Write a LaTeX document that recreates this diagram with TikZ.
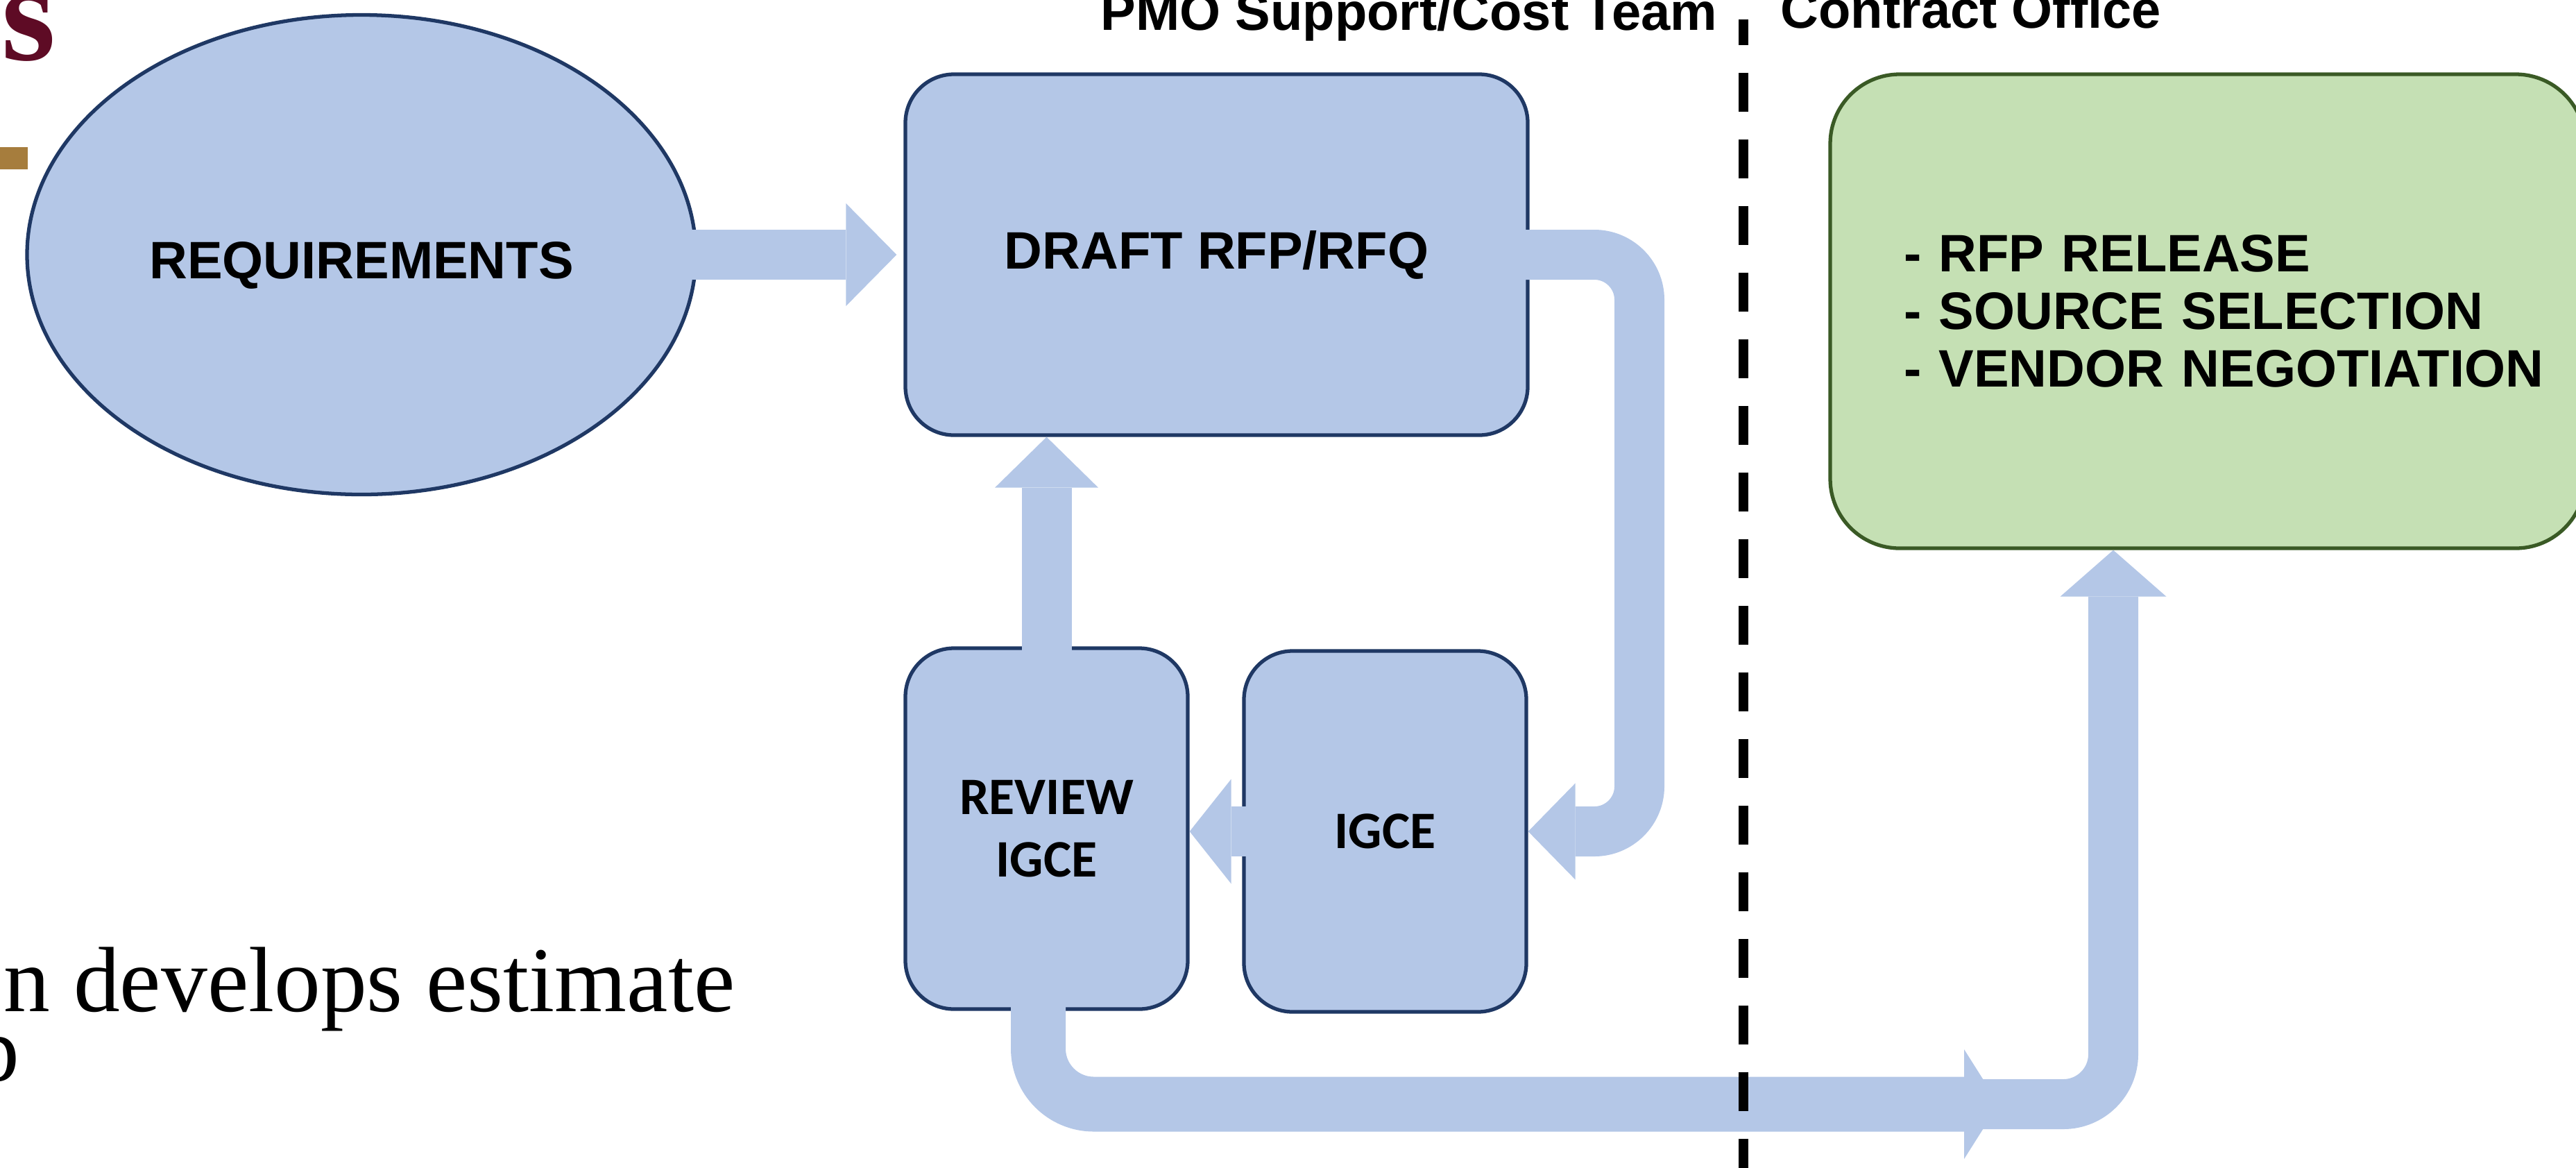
\documentclass[tikz,border=0pt]{standalone}
\usepackage{fontspec}
\setmainfont{Liberation Serif}
\newfontfamily\arialfont{Liberation Sans}
\newfontfamily\calibrifont{Carlito}
\usepackage{tikz}
\usetikzlibrary{shapes.geometric,arrows.meta}

\definecolor{flowblue}{HTML}{B4C7E7}
\definecolor{boxline}{HTML}{1F3864}
\definecolor{officefill}{HTML}{C5E0B4}
\definecolor{officeline}{HTML}{3A5A25}
\definecolor{titlered}{HTML}{5E0B25}
\definecolor{titlegold}{HTML}{A67D3D}

\tikzset{
  headtext/.style={inner sep=0pt, font=\arialfont\bfseries\fontsize{21.6}{23.6}\selectfont},
  stepbox/.style={draw=boxline, fill=flowblue, line width=1.5pt, rounded corners=0.7cm,
    minimum width=4.07cm, minimum height=5.2cm, align=center,
    font=\calibrifont\bfseries\fontsize{21.6}{25.6}\selectfont},
  flow/.style={draw=flowblue, line width=0.72cm},
  flowtip/.style 2 args={arrows={-{Triangle[length=#1,width=#2,line width=0pt]}}}
}

\begin{document}
\begin{tikzpicture}[y=-1cm]
  \useasboundingbox (0,0) rectangle (37.13,16.82);

  \node[anchor=base west, inner sep=0pt, text=titlered, font=\bfseries\fontsize{57}{57}\selectfont] (title) at (0.02,0.86) {s};
  \fill[titlegold] (0,2.12) rectangle (0.40,2.44);
  \node[anchor=base east, inner sep=0pt, font=\fontsize{38}{46}\selectfont] (body1) at (10.60,14.57) {n develops estimate};
  \node[anchor=base west, inner sep=0pt, font=\fontsize{38}{46}\selectfont] (body2) at (-0.39,15.57) {p};

  % lane headers
  \node[headtext, anchor=base west] (pmo) at (15.86,0.43) {PMO Support/Cost Team};
  \node[headtext, anchor=base west] (office) at (25.66,0.40) {Contract Office};

  % steps
  \node[ellipse, draw=boxline, fill=flowblue, line width=1.5pt, minimum width=9.64cm, minimum height=6.91cm,
    headtext, inner sep=0pt, text height=0.74cm, text depth=0.05cm] (req) at (5.21,3.67) {REQUIREMENTS};
  \node[stepbox, minimum width=8.97cm, font=\arialfont\bfseries\fontsize{21.6}{23.6}\selectfont] (draft) at (17.535,3.67) {DRAFT RFP/RFQ};
  \node[stepbox] (review) at (15.085,11.94) {REVIEW\\IGCE};
  \node[stepbox] (igce) at (19.965,11.98) {IGCE};
  \node[draw=officeline, fill=officefill, line width=1.5pt, rounded corners=1cm,
    minimum height=6.83cm, text width=8.76cm, align=left,
    headtext, inner xsep=1.06cm] (contract) at (31.82,4.485)
    {\mbox{- RFP RELEASE}\\\mbox{- SOURCE SELECTION}\\\mbox{- VENDOR NEGOTIATION}};

  \coordinate (bendR) at (23.63,0);
  \coordinate (midtip) at (28.81,15.91);

  % flows
  \draw[flow, flowtip={0.73cm}{1.48cm}, shorten <=-0.1cm, shorten >=0.1cm] (req.east) -- (req.east -| draft.west);
  \draw[flow, flowtip={0.68cm}{1.39cm}, rounded corners=0.65cm, shorten <=-0.06cm] (draft.east) -- (draft.east -| bendR) |- (igce.east);
  \draw[flow, flowtip={0.60cm}{1.51cm}, shorten <=-0.06cm] (igce.west) -- (igce.west -| review.east);
  \draw[flow, flowtip={0.73cm}{1.49cm}, shorten <=-0.06cm] (review.north) -- (review.north |- draft.south);
  \draw[flow, line width=0.79cm, flowtip={0.50cm}{1.58cm}, rounded corners=0.8cm, shorten <=-0.06cm] ([xshift=-0.12cm]review.south) |- (midtip);
  \draw[flow, flowtip={0.67cm}{1.53cm}, rounded corners=0.72cm] ([xshift=-0.45cm]midtip) -| ([xshift=-1.36cm]contract.south);

  % lane divider
  \coordinate (laneTop) at (25.13,0.28);
  \coordinate (laneBot) at (25.13,16.9);
  \draw[line width=0.14cm, dash pattern=on 0.56cm off 0.40cm, dash phase=0.19cm] (laneTop) -- (laneBot);
\end{tikzpicture}
\end{document}
